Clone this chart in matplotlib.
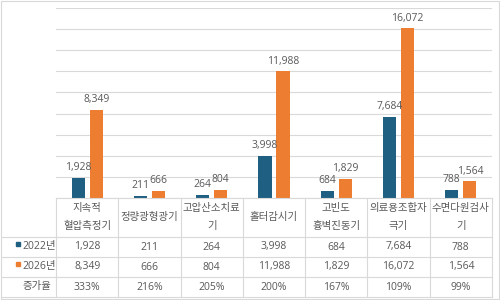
import matplotlib.pyplot as plt
from matplotlib.patches import Rectangle
from matplotlib.transforms import blended_transform_factory

plt.rcParams['font.family'] = ['Open Sans', 'Noto Sans CJK KR']

# data
categories = ['지속적\n혈압측정기', '정량광형광기', '고압산소치료\n기', '홀터감시기',
              '고빈도\n흉벽진동기', '의료용조합자\n극기', '수면다원검사\n기']
v2022 = [1928, 211, 264, 3998, 684, 7684, 788]
v2026 = [8349, 666, 804, 11988, 1829, 16072, 1564]
growth = ['333%', '216%', '205%', '200%', '167%', '109%', '99%']
series_names = ['2022년', '2026년', '증가율']

blue = '#1f5f82'
orange = '#ed7d31'
grid_c = '#d9d9d9'
txt_c = '#595959'
W, H = 500, 300

fig = plt.figure(figsize=(5, 3), dpi=100)
ax = fig.add_axes([56 / W, 1 - 198 / H, (492 - 56) / W, (198 - 8) / H])

x = list(range(len(categories)))
bw = 0.21
off = 0.145
ax.bar([i - off for i in x], v2022, width=bw, color=blue)
ax.bar([i + off for i in x], v2026, width=bw, color=orange)
for i in x:
    ax.text(i - off, v2022[i] + 450, f'{v2022[i]:,}', ha='center', va='bottom',
            fontsize=7.5, color=txt_c)
    ax.text(i + off, v2026[i] + 450, f'{v2026[i]:,}', ha='center', va='bottom',
            fontsize=7.5, color=txt_c)

ax.set_xlim(-0.5, len(categories) - 0.5)
ax.set_ylim(0, 18000)
ax.set_yticks(range(0, 18001, 2000))
ax.yaxis.grid(True, color=grid_c, lw=0.8)
ax.set_axisbelow(True)
ax.tick_params(left=False, bottom=False, labelleft=False, labelbottom=False)
for s in ax.spines.values():
    s.set_visible(False)

# data table under the chart
def fy(py):
    return 1 - py / H

tr = blended_transform_factory(ax.transData, fig.transFigure)
line_kw = dict(color=grid_c, lw=0.8, clip_on=False)
x0, x1 = -0.5, len(categories) - 0.5
ax.plot([x0, x1], [fy(198)] * 2, transform=tr, **line_kw)
for py in [237, 257, 277, 297]:
    fig.add_artist(plt.Line2D([0.004, 492 / W], [fy(py)] * 2, transform=fig.transFigure,
                              color=grid_c, lw=0.8))
for i in range(len(categories) + 1):
    ax.plot([i - 0.5] * 2, [fy(198), fy(297)], transform=tr, **line_kw)

rows = [v2022, v2026]
row_y = [247, 267, 287]
for i in x:
    ax.text(i, fy(217.5), categories[i], transform=tr, ha='center', va='center',
            fontsize=7.5, color=txt_c, linespacing=2.0)
    for r, vals in enumerate(rows):
        ax.text(i, fy(row_y[r]), f'{vals[i]:,}', transform=tr, ha='center', va='center',
                fontsize=7.5, color=txt_c)
    ax.text(i, fy(row_y[2]), growth[i], transform=tr, ha='center', va='center',
            fontsize=7.5, color=txt_c)

for r, (name, c) in enumerate(zip(series_names, [blue, orange, None])):
    if c:
        fig.add_artist(Rectangle((16 / W, fy(row_y[r] - 1)), 4 / W, 4 / H,
                                 transform=fig.transFigure, color=c))
        fig.text(22 / W, fy(row_y[r]), name, ha='left', va='center', fontsize=7.5, color=txt_c)
    else:
        fig.text(37 / W, fy(row_y[r]), name, ha='center', va='center', fontsize=7.5, color=txt_c)

fig.add_artist(Rectangle((0.001, 0.002), 0.997, 0.996, transform=fig.transFigure,
                         fill=False, ec=grid_c, lw=0.8))

fig.savefig('out.png', dpi=100)
